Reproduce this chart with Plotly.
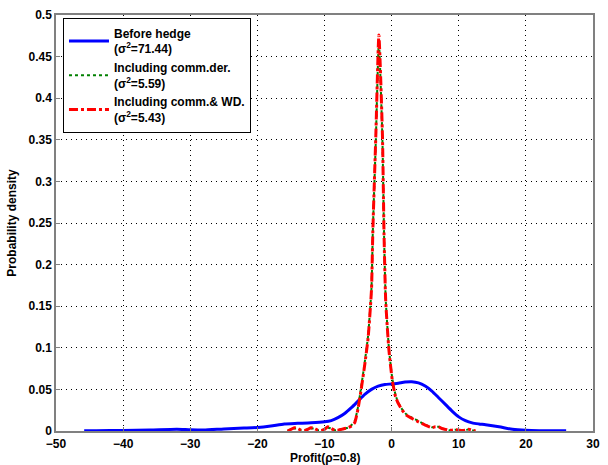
import plotly.graph_objects as go

# ---- data ----
x_before = [-45.8, -44, -40, -36, -32, -30, -28, -25, -22, -20, -18, -16, -14, -12, -10, -9, -8, -7, -6, -5,
            -4, -3, -2, -1, 0, 1, 2, 3, 4, 5, 6, 7, 8, 9, 10, 11, 12, 13, 14, 16, 18, 20, 22, 24, 26]
y_before = [0.0003, 0.0004, 0.0006, 0.0012, 0.0022, 0.0015, 0.0012, 0.0025, 0.0035, 0.0042, 0.006, 0.0085,
            0.0092, 0.0098, 0.011, 0.0125, 0.016, 0.021, 0.028, 0.036, 0.044, 0.050, 0.054, 0.056, 0.0565,
            0.0575, 0.0588, 0.0592, 0.0578, 0.054, 0.048, 0.040, 0.032, 0.024, 0.017, 0.0125, 0.0098, 0.0085,
            0.0075, 0.005, 0.002, 0.0008, 0.0004, 0.0003, 0.0003]

x_wd = [-15.5, -15, -14.5, -14, -13.5, -13, -12.5, -12, -11.5, -11, -10.5, -10, -9.5, -9, -8.5, -8, -7.5, -7,
        -6.5, -6, -5.5, -5, -4.5, -4, -3.5, -3, -2.8, -2.35, -1.9, -1.37, -1.13, -0.88, -0.4, 0.1, 0.59, 1.0,
        1.57, 2.2, 3.04, 4, 5, 6, 6.5, 7, 7.5, 8, 8.5, 9, 9.5, 10, 10.5, 11, 11.5, 12, 12.5]
y_wd = [0.0, 0.002, 0.004, 0.003, 0.001, 0.0005, 0.002, 0.004, 0.003, 0.001, 0.0005, 0.002, 0.005, 0.003,
        0.001, 0.001, 0.002, 0.003, 0.004, 0.006, 0.010, 0.027, 0.052, 0.080, 0.112, 0.17, 0.24, 0.356, 0.476,
        0.356, 0.236, 0.156, 0.097, 0.061, 0.041, 0.033, 0.025, 0.019, 0.015, 0.011, 0.0072, 0.004, 0.005,
        0.005, 0.003, 0.002, 0.001, 0.001, 0.0015, 0.001, 0.0005, 0.001, 0.002, 0.001, 0.0]

x_der = [-15.5, -15, -14.5, -14, -13.5, -13, -12.5, -12, -11.5, -11, -10.5, -10, -9.5, -9, -8.5, -8, -7.5, -7,
         -6.5, -6, -5.5, -5, -4.5, -4, -3.5, -3, -2.8, -2.35, -1.9, -1.37, -1.13, -0.88, -0.4, 0.1, 0.59, 1.0,
         1.57, 2.2, 3.04, 4, 5, 6, 6.5, 7, 7.5, 8, 8.5, 9, 9.5, 10, 10.5, 11, 11.5, 12, 12.5]
y_der = [0.0, 0.002, 0.003, 0.003, 0.001, 0.001, 0.002, 0.003, 0.003, 0.001, 0.001, 0.002, 0.004, 0.003,
         0.001, 0.001, 0.002, 0.003, 0.004, 0.007, 0.012, 0.029, 0.055, 0.083, 0.115, 0.172, 0.24, 0.35, 0.468,
         0.35, 0.236, 0.158, 0.099, 0.063, 0.043, 0.034, 0.026, 0.02, 0.016, 0.012, 0.0075, 0.0045, 0.005,
         0.005, 0.003, 0.002, 0.001, 0.001, 0.0015, 0.001, 0.0005, 0.001, 0.002, 0.001, 0.0]

names = ["Before hedge<br>(σ<sup>2</sup>=71.44)",
         "Including comm.der.<br>(σ<sup>2</sup>=5.59)",
         "Including comm.& WD.<br>(σ<sup>2</sup>=5.43)"]

x_ticks = [-50, -40, -30, -20, -10, 0, 10, 20, 30]
y_ticks = [0, 0.05, 0.1, 0.15, 0.2, 0.25, 0.3, 0.35, 0.4, 0.45, 0.5]
y_ticktext = ["0", "0.05", "0.1", "0.15", "0.2", "0.25", "0.3", "0.35", "0.4", "0.45", "0.5"]
x_ticktext = ["\u221250", "\u221240", "\u221230", "\u221220", "\u221210", "0", "10", "20", "30"]

FONT = "Liberation Sans, Arial, sans-serif"
TFONT = dict(family=FONT, size=12, color="black", weight="bold")

fig = go.Figure()
fig.add_trace(go.Scatter(x=x_before, y=y_before, mode="lines", name=names[0],
                         line=dict(color="#0000ff", width=3, shape="spline", smoothing=0.6)))
fig.add_trace(go.Scatter(x=x_der, y=y_der, mode="lines", name=names[1],
                         line=dict(color="#008000", width=2, dash="dot", shape="spline", smoothing=0.5)))
fig.add_trace(go.Scatter(x=x_wd, y=y_wd, mode="lines", name=names[2],
                         line=dict(color="#ff0000", width=3, dash="dashdot", shape="spline", smoothing=0.5)))

axis_common = dict(showline=True, mirror=True, linecolor="#808080", linewidth=1.5,
                   showgrid=True, gridcolor="#000000", gridwidth=1, griddash="1px,4px",
                   zeroline=False, ticks="inside", ticklen=4, tickcolor="#808080",
                   tickfont=TFONT)

fig.update_xaxes(range=[-50, 30], tickvals=x_ticks, ticktext=x_ticktext,
                 ticklabelstandoff=1, **axis_common)
fig.update_yaxes(range=[0, 0.5], tickvals=y_ticks, ticktext=y_ticktext,
                 title=dict(text="Probability density", font=TFONT, standoff=9),
                 **axis_common)

fig.add_annotation(text="Profit(ρ=0.8)", xref="paper", yref="paper", x=0.5, y=-0.065,
                   xanchor="center", yanchor="middle", showarrow=False, font=TFONT)

fig.update_layout(
    width=608, height=465,
    margin=dict(l=56, r=8, t=12, b=34),
    paper_bgcolor="white", plot_bgcolor="white",
    font=TFONT,
    legend=dict(x=0.013, y=0.993, xanchor="left", yanchor="top",
                bgcolor="white", bordercolor="black", borderwidth=1,
                font=TFONT, tracegroupgap=0, itemwidth=40),
    showlegend=True,
)

fig.write_html("out.html")
